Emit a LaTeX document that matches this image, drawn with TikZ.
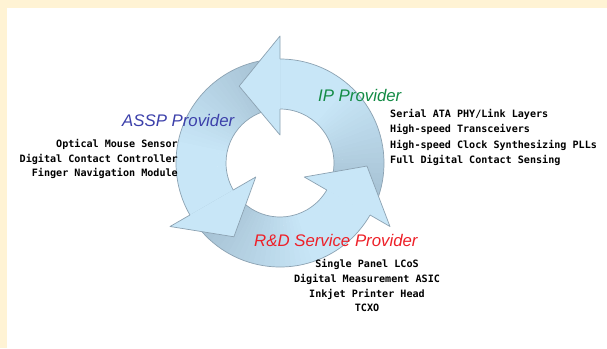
\documentclass[tikz,border=0pt]{standalone}
\usepackage{fontspec}
\setmainfont{Liberation Sans}
\newfontfamily\listfont{DejaVu Sans Mono}
\usetikzlibrary{calc}
\definecolor{cream}{RGB}{255,243,212}
\definecolor{ringlight}{RGB}{200,230,247}
\definecolor{ringdark}{RGB}{168,196,214}
\definecolor{ringline}{RGB}{140,162,178}
\definecolor{asspblue}{RGB}{60,64,170}
\definecolor{ipgreen}{RGB}{20,140,70}
\definecolor{rdred}{RGB}{238,32,40}
\tikzset{
  titletext/.style={font=\fontsize{16.8}{18}\selectfont\itshape, inner sep=0pt},
  listtext/.style={font=\fontsize{10.1}{12}\selectfont\listfont\bfseries, inner sep=0pt},
  outline/.style={draw=ringline, line width=0.7pt, line join=round}
}
\begin{document}
\begin{tikzpicture}[x=1pt,y=1pt]
\useasboundingbox (0,0) rectangle (607,-348);
\fill[cream] (0,0) rectangle (607,-348);
\fill[white] (7,-8) rectangle (607,-348);
\coordinate (C) at (280,-163);
% bodies with angular gradient
\foreach \s in {-30,90,210}{
  \foreach \i in {0,...,39}{
    \pgfmathsetmacro\a{\s+3*\i}
    \pgfmathsetmacro\b{\a+3.4}
    \pgfmathtruncatemacro\t{min(100,max(0,(\i-4)*100/22))}
    \fill[ringlight!\t!ringdark] ($(C)+(\a:104)$) arc[start angle=\a, end angle=\b, radius=104]
      -- ($(C)+(\b:54)$) arc[start angle=\b, end angle=\a, radius=54] -- cycle;
  }
  \pgfmathsetmacro\e{\s+120}
  \draw[outline] ($(C)+(\s:104)$) arc[start angle=\s, end angle=\e, radius=104];
  \draw[outline] ($(C)+(\s:54)$) arc[start angle=\s, end angle=\e, radius=54];
}
% heads
\foreach \e in {90,210,330}{
  \fill[ringlight] ($(C)+(\e:127)$) -- ($(C)+(\e+28:87)$) -- ($(C)+(\e:28)$) -- cycle;
  \draw[outline] ($(C)+(\e:104)$) -- ($(C)+(\e:127)$) -- ($(C)+(\e+28:87)$) -- ($(C)+(\e:28)$) -- ($(C)+(\e:54)$);
}
% titles
\node[titletext, text=asspblue, anchor=base west] (assp) at (122,-126) {ASSP Provider};
\node[titletext, text=ipgreen, anchor=base west] (ip) at (318,-101.5) {IP Provider};
\node[titletext, text=rdred, anchor=base west] (rd) at (254,-246.5) {R\&D Service Provider};
% ASSP list
\node[listtext, anchor=base east] (a1) at (178,-147.3) {Optical Mouse Sensor};
\node[listtext, anchor=base east] (a2) at (178,-162) {Digital Contact Controller};
\node[listtext, anchor=base east] (a3) at (178,-176.5) {Finger Navigation Module};
% IP list
\node[listtext, anchor=base west] (i1) at (390,-117.3) {Serial ATA PHY/Link Layers};
\node[listtext, anchor=base west] (i2) at (390,-132.7) {High-speed Transceivers};
\node[listtext, anchor=base west] (i3) at (390,-148) {High-speed Clock Synthesizing PLLs};
\node[listtext, anchor=base west] (i4) at (390,-163.3) {Full Digital Contact Sensing};
% R&D list
\node[listtext, anchor=base] (r1) at (367,-267.5) {Single Panel LCoS};
\node[listtext, anchor=base] (r2) at (367,-282.3) {Digital Measurement ASIC};
\node[listtext, anchor=base] (r3) at (367,-297.5) {Inkjet Printer Head};
\node[listtext, anchor=base] (r4) at (367,-311) {TCXO};
\end{tikzpicture}
\end{document}
